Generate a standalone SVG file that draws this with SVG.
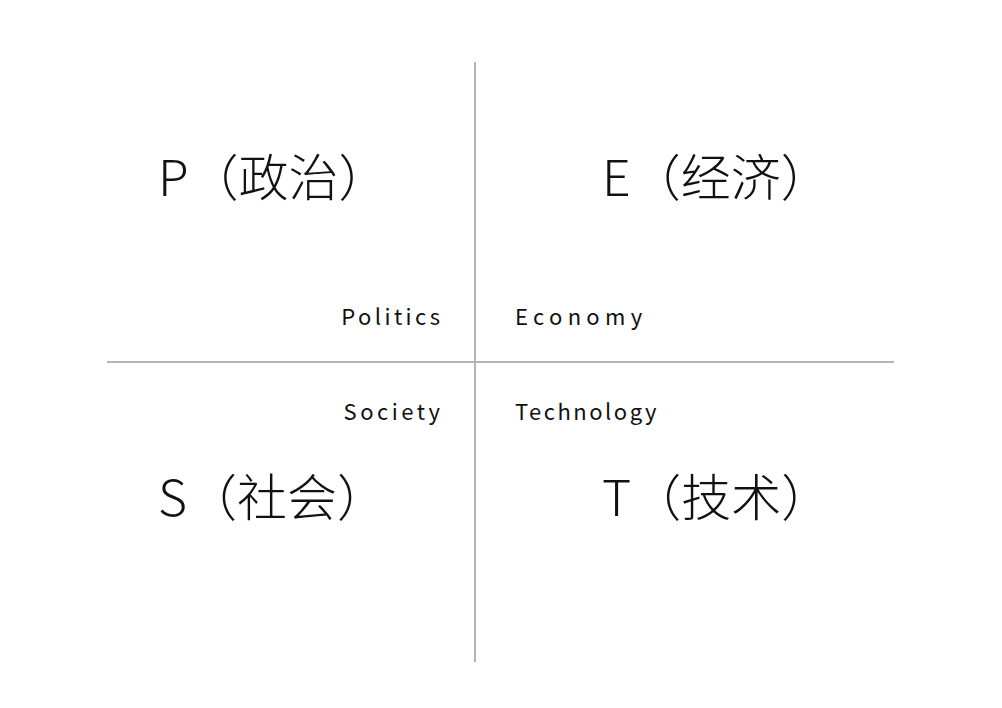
<svg xmlns="http://www.w3.org/2000/svg" width="1002" height="708" viewBox="0 0 1002 708">
<style>
.big{font-family:"Noto Sans CJK SC","Noto Sans",sans-serif;font-size:50px;font-weight:300;fill:#111}
.sm{font-family:"Noto Sans CJK SC","Noto Sans",sans-serif;font-size:22px;font-weight:400;fill:#111}
.ln{stroke:#b4b4b4;stroke-width:2;fill:none}
</style>
<rect width="1002" height="708" fill="#fff"/>
<g id="connectors">
<line class="ln" x1="475" y1="62" x2="475" y2="662"/>
<line class="ln" x1="107" y1="362" x2="894" y2="362"/>
</g>
<g id="P"><text class="big" x="158" y="196">P（政治）</text><text class="sm" x="443.4" y="325" text-anchor="end" letter-spacing="3.4">Politics</text></g>
<g id="E"><text class="big" x="602" y="196">E（经济）</text><text class="sm" x="515" y="325" letter-spacing="5.3">Economy</text></g>
<g id="S"><text class="big" x="158" y="516">S（社会）</text><text class="sm" x="443.5" y="420" text-anchor="end" letter-spacing="3.5">Society</text></g>
<g id="T"><text class="big" x="602" y="516">T（技术）</text><text class="sm" x="515" y="420" letter-spacing="2.5">Technology</text></g>
</svg>
